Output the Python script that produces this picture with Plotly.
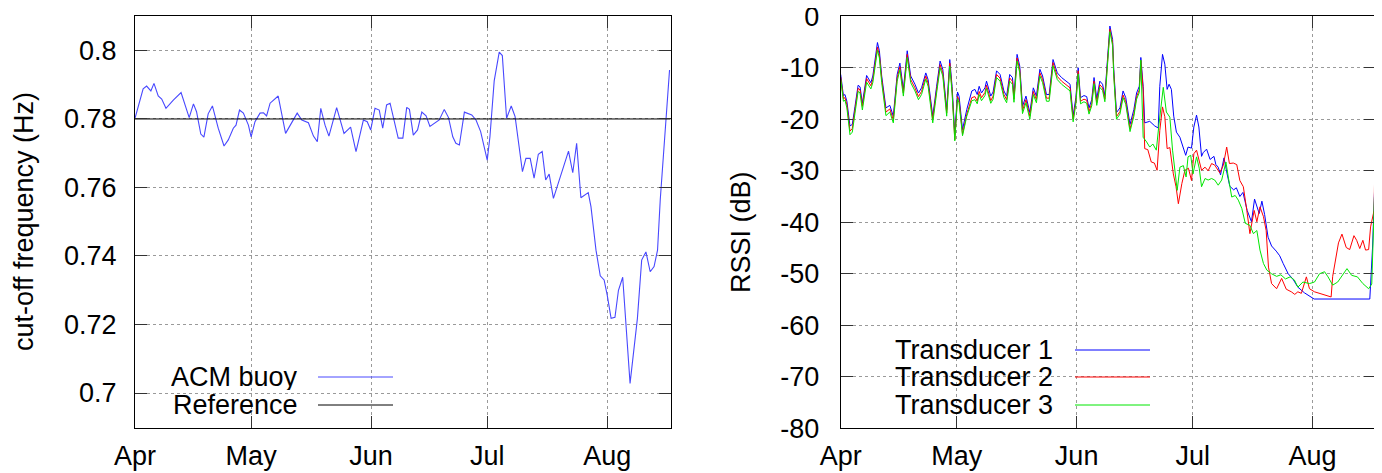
import plotly.graph_objects as go
import pandas as pd

# ---------------- data ----------------
START_DATE = "2013-04-01"
END_DATE = "2013-08-17 09:36"

month_ticks = ["2013-04-01", "2013-05-01", "2013-06-01", "2013-07-01", "2013-08-01"]
month_labels = ["Apr", "May", "Jun", "Jul", "Aug"]

freq_ticks = [0.70, 0.72, 0.74, 0.76, 0.78, 0.80]
freq_tick_labels = ["0.7", "0.72", "0.74", "0.76", "0.78", "0.8"]
rssi_ticks = [-80, -70, -60, -50, -40, -30, -20, -10, 0]
rssi_tick_labels = ["-80", "-70", "-60", "-50", "-40", "-30", "-20", "-10", "0"]

# left panel: cut-off frequency (days since 1 April)
acm_day = [0.0, 2.1, 3.0, 4.1, 4.9, 6.0, 6.9, 8.0, 9.9, 11.9,
           14.0, 15.1, 15.9, 17.0, 17.8, 18.9, 20.0, 21.5, 23.0, 24.1,
           25.4, 26.1, 27.0, 28.0, 29.3, 30.0, 31.0, 32.3, 33.2, 34.0,
           34.9, 37.0, 38.9, 40.1, 41.9, 43.1, 44.8, 46.1, 47.1, 48.0,
           49.1, 50.1, 52.1, 54.0, 55.7, 57.1, 59.0, 60.0, 60.9, 62.0,
           63.1, 64.0, 65.0, 65.9, 66.7, 68.0, 69.2, 70.2, 70.9, 71.9,
           73.0, 74.1, 75.2, 76.2, 78.6, 79.9, 81.0, 82.1, 82.9, 83.8,
           85.1, 87.0, 88.1, 89.3, 91.0, 91.7, 92.8, 94.1, 94.9, 96.0,
           97.2, 98.2, 100.1, 101.0, 102.1, 103.1, 104.2, 105.2, 106.1, 107.0,
           108.1, 112.0, 113.1, 114.1, 115.2, 117.1, 117.8, 119.1, 120.2, 121.2,
           122.0, 123.0, 124.0, 124.9, 126.0, 127.9, 129.8, 130.9, 132.0, 133.1,
           134.1, 135.0, 135.7, 138.1]
acm_freq = [0.7802, 0.7888, 0.7896, 0.7882, 0.7904, 0.7867, 0.7858, 0.7831, 0.7855, 0.7877,
            0.7804, 0.7844, 0.7821, 0.7756, 0.7747, 0.7815, 0.7838, 0.7773, 0.7721, 0.7739,
            0.7773, 0.7782, 0.7826, 0.7817, 0.7782, 0.7748, 0.7792, 0.7817, 0.7818, 0.7809,
            0.7846, 0.7867, 0.7758, 0.7782, 0.7817, 0.7797, 0.7789, 0.7750, 0.7734, 0.7831,
            0.7782, 0.7750, 0.7833, 0.7758, 0.7776, 0.7705, 0.7797, 0.7792, 0.7768, 0.7831,
            0.7826, 0.7773, 0.7841, 0.7846, 0.7807, 0.7744, 0.7744, 0.7834, 0.7828, 0.7753,
            0.7768, 0.7820, 0.7809, 0.7778, 0.7797, 0.7828, 0.7804, 0.7748, 0.7729, 0.7724,
            0.7820, 0.7812, 0.7797, 0.7763, 0.7680, 0.7748, 0.7911, 0.7995, 0.7985, 0.7802,
            0.7838, 0.7807, 0.7646, 0.7685, 0.7685, 0.7627, 0.7697, 0.7705, 0.7622, 0.7639,
            0.7568, 0.7706, 0.7643, 0.7729, 0.7570, 0.7585, 0.7544, 0.7417, 0.7342, 0.7330,
            0.7286, 0.7218, 0.7221, 0.7300, 0.7338, 0.7028, 0.7218, 0.7388, 0.7412, 0.7354,
            0.7369, 0.7417, 0.7564, 0.7943]
reference_freq = 0.78

# right panel: RSSI, common early period (days since 1 April)
rssi_day_early = [0.0, 0.7, 1.1, 1.6, 2.4, 3.0, 3.7, 4.5, 5.0, 5.6,
                  6.7, 7.8, 8.3, 8.9, 9.5, 10.0, 10.6, 11.7, 12.7, 13.6,
                  14.6, 15.3, 16.2, 17.2, 18.1, 19.2, 20.1, 20.9, 22.0, 22.6,
                  23.8, 24.8, 25.7, 26.4, 27.4, 28.2, 28.8, 29.5, 30.2, 30.6,
                  31.5, 32.6, 33.9, 34.7, 35.3, 35.8, 36.4, 37.3, 37.7, 38.8,
                  39.4, 40.3, 41.2, 42.2, 42.9, 43.7, 44.4, 44.8, 45.6, 46.3,
                  47.0, 47.9, 48.9, 49.8, 50.6, 51.5, 52.2, 53.2, 53.9, 54.9,
                  56.0, 57.1, 58.4, 59.3, 60.1, 60.8, 61.4, 62.0, 62.9, 63.6,
                  64.2, 64.9, 65.5, 66.2, 67.0, 67.7, 68.3, 68.9, 69.6, 70.3,
                  70.6, 71.3, 72.2, 73.0, 73.7, 74.8, 75.8, 76.5, 77.2, 77.6]
t1_early = [-11.3, -15.4, -15.2, -16.5, -21.3, -21.0, -17.5, -13.4, -13.7, -16.9,
            -11.5, -12.9, -11.6, -8.4, -5.1, -6.7, -11.6, -17.8, -17.3, -19.4,
            -11.3, -9.1, -14.2, -6.7, -11.6, -13.2, -14.9, -13.9, -11.0, -12.3,
            -19.4, -13.6, -8.7, -10.3, -18.1, -8.4, -13.6, -23.0, -14.7, -15.5,
            -22.0, -18.1, -14.5, -14.2, -15.2, -13.6, -14.9, -13.9, -12.6, -15.5,
            -14.7, -10.6, -11.3, -14.5, -15.5, -11.3, -11.9, -15.4, -7.4, -9.7,
            -17.5, -15.5, -18.7, -13.9, -15.5, -10.3, -11.6, -15.2, -15.2, -8.4,
            -11.0, -11.9, -12.6, -13.2, -19.3, -15.8, -10.0, -15.8, -15.4, -15.6,
            -17.8, -16.2, -11.9, -16.0, -12.6, -13.2, -15.4, -8.4, -1.9, -4.5,
            -10.3, -18.7, -17.8, -14.5, -15.8, -21.0, -18.1, -14.9, -13.6, -8.0]
t2_early = [-11.8, -16.0, -15.8, -17.2, -22.3, -21.8, -18.1, -14.0, -14.3, -17.5,
            -12.1, -13.5, -12.3, -9.2, -6.0, -7.5, -12.2, -18.6, -18.0, -20.1,
            -12.0, -9.8, -14.9, -7.4, -12.3, -13.9, -15.6, -14.6, -11.6, -13.0,
            -20.0, -14.3, -9.4, -11.0, -18.8, -9.1, -14.3, -24.0, -15.6, -16.3,
            -22.9, -19.0, -15.8, -15.6, -16.5, -14.6, -15.8, -14.8, -13.4, -16.4,
            -15.5, -11.3, -12.0, -15.2, -16.2, -12.0, -12.6, -16.1, -8.1, -10.4,
            -18.3, -16.2, -19.4, -14.6, -16.2, -11.0, -12.3, -15.9, -15.9, -9.0,
            -11.7, -12.6, -13.3, -13.9, -20.0, -16.5, -10.6, -16.5, -16.1, -16.3,
            -18.5, -16.9, -12.6, -16.8, -13.3, -13.9, -16.1, -9.0, -2.5, -5.2,
            -11.0, -19.5, -18.5, -15.3, -16.6, -21.9, -18.9, -15.6, -14.3, -8.6]
t3_early = [-12.2, -16.5, -16.3, -17.8, -23.0, -22.5, -18.8, -14.6, -14.9, -18.2,
            -12.8, -14.1, -12.9, -9.8, -6.6, -8.1, -12.9, -19.3, -18.6, -20.7,
            -12.6, -10.4, -15.5, -8.0, -12.9, -14.5, -16.2, -15.2, -12.2, -13.6,
            -20.7, -14.9, -10.0, -11.6, -19.4, -9.7, -14.9, -24.2, -16.0, -16.8,
            -23.2, -19.4, -16.4, -16.2, -17.0, -15.2, -16.4, -15.4, -14.0, -16.9,
            -16.1, -11.9, -12.6, -15.8, -16.8, -12.6, -13.2, -16.7, -8.7, -11.0,
            -18.9, -16.8, -20.0, -15.2, -16.8, -11.6, -12.9, -16.5, -16.5, -9.6,
            -12.3, -13.2, -13.9, -14.5, -20.5, -17.0, -11.2, -17.0, -16.6, -16.9,
            -19.0, -17.4, -13.1, -17.3, -13.8, -14.4, -16.6, -9.5, -3.0, -5.7,
            -11.6, -20.0, -19.0, -15.8, -17.1, -22.4, -19.4, -16.1, -14.8, -8.5]

# right panel: late period, each transducer separately
t1_late_day = [78.2, 78.6, 79.9, 81.2, 82.1, 82.5, 83.2, 83.8, 84.4, 84.9,
               85.5, 86.1, 86.8, 87.7, 88.4, 89.2, 89.8, 90.7, 91.3, 92.0,
               92.6, 93.3, 93.7, 94.6, 95.5, 96.5, 97.0, 97.6, 98.2, 99.1,
               99.9, 100.6, 101.6, 102.3, 103.2, 104.0, 105.1, 106.2, 107.0, 108.2,
               108.9, 109.6, 110.5, 111.4, 112.6, 113.5, 114.4, 115.7, 116.9, 118.2,
               119.9, 121.2, 122.4, 136.8, 137.5, 138.3]
t1_late = [-13.6, -20.7, -20.4, -21.3, -21.7, -13.6, -7.4, -9.3, -14.2, -13.2,
           -14.2, -19.4, -22.5, -23.5, -25.2, -27.0, -25.4, -25.6, -21.5, -19.2,
           -21.5, -27.2, -26.5, -25.8, -27.8, -27.2, -28.8, -29.3, -30.8, -27.5,
           -30.6, -33.0, -33.7, -33.3, -35.0, -34.2, -37.7, -39.9, -35.5, -38.3,
           -35.9, -38.5, -42.9, -44.6, -45.6, -46.5, -48.0, -50.0, -51.0, -52.6,
           -53.7, -54.3, -54.9, -54.9, -45.0, -28.0]
t2_late_day = [78.2, 78.6, 79.4, 80.3, 81.1, 81.8, 82.5, 83.2, 83.8, 84.4,
               85.1, 86.0, 86.7, 87.3, 88.2, 89.0, 89.9, 90.7, 91.3, 92.0,
               92.7, 93.3, 94.2, 95.0, 95.9, 96.7, 98.0, 98.9, 99.8, 100.5,
               101.5, 102.4, 103.2, 104.1, 105.0, 105.8, 106.9, 107.6, 108.4, 109.3,
               110.0, 110.6, 111.4, 112.7, 114.0, 115.2, 116.5, 117.4, 118.2, 119.1,
               120.4, 121.2, 122.5, 123.8, 125.1, 126.8, 127.2, 127.9, 128.7, 129.6,
               130.7, 131.6, 132.7, 133.4, 134.2, 135.0, 135.7, 136.5, 137.0, 137.9,
               138.3]
t2_late = [-14.3, -25.7, -25.9, -28.3, -28.5, -29.9, -22.2, -17.6, -19.5, -25.7,
           -25.5, -30.6, -33.1, -36.4, -32.5, -29.9, -29.5, -31.9, -26.7, -26.0,
           -28.0, -29.9, -29.3, -30.0, -28.6, -28.9, -30.4, -29.0, -25.4, -28.6,
           -28.5, -28.8, -31.9, -33.1, -37.7, -42.2, -37.7, -39.9, -37.0, -38.9,
           -41.6, -48.7, -51.9, -52.9, -50.9, -53.0, -53.5, -54.0, -53.5, -53.8,
           -50.6, -52.9, -53.5, -53.8, -54.2, -54.5, -50.5, -47.4, -44.0, -42.3,
           -44.9, -45.3, -42.6, -43.5, -45.1, -43.5, -45.4, -45.3, -40.9, -37.7,
           -19.6]
t3_late_day = [78.2, 79.1, 79.9, 80.7, 81.6, 82.3, 82.9, 83.4, 84.2, 85.1,
               85.8, 86.4, 87.0, 87.7, 88.6, 89.3, 89.8, 90.5, 91.1, 92.0,
               92.7, 93.3, 94.2, 95.0, 95.9, 96.7, 97.6, 98.5, 99.6, 100.2,
               101.1, 102.0, 102.8, 103.7, 104.6, 105.8, 106.7, 107.6, 108.4, 109.3,
               110.2, 111.4, 112.7, 113.8, 115.0, 116.2, 117.3, 118.2, 119.5, 121.2,
               122.5, 123.8, 125.1, 126.0, 127.2, 128.5, 129.8, 130.9, 132.1, 133.6,
               135.0, 136.5, 137.3, 138.0, 138.3]
t3_late = [-23.5, -24.4, -25.4, -24.8, -26.0, -20.9, -16.3, -13.8, -18.6, -19.6,
           -26.0, -29.9, -33.8, -29.3, -29.0, -31.2, -27.3, -27.0, -30.6, -27.3,
           -29.5, -33.1, -31.5, -31.8, -31.5, -31.8, -32.8, -31.8, -28.3, -31.2,
           -35.1, -34.8, -35.7, -37.3, -40.2, -40.6, -42.2, -41.6, -45.4, -48.0,
           -49.3, -50.0, -50.5, -50.2, -51.0, -50.6, -51.2, -52.6, -51.6, -51.9,
           -51.6, -50.0, -49.6, -50.6, -52.2, -51.6, -50.3, -49.0, -50.3, -50.6,
           -51.9, -52.9, -52.0, -35.1, -33.0]

# ---------------- build ----------------
# the page body has an 8px margin, so figure pixels = page pixels - 8
OFF = 8
W, H = 1382 - OFF, 473 - OFF
FONT = "Liberation Sans, Arial, Helvetica, sans-serif"
FS = 27


def to_dates(days):
    return pd.Timestamp(START_DATE) + pd.to_timedelta(pd.Series(days), unit="D")


def px(x):
    return (x - OFF) / W


def py(y):
    return 1 - (y - OFF) / H


BLUE_L = "#4848ff"
BLUE = "#0000ff"
RED = "#ff0000"
GREEN = "#00e600"

fig = go.Figure()
fig.add_trace(go.Scatter(x=to_dates(acm_day), y=acm_freq, mode="lines",
                         line=dict(color=BLUE_L, width=1.1), xaxis="x", yaxis="y",
                         name="ACM buoy", showlegend=False))
fig.add_trace(go.Scatter(x=[START_DATE, END_DATE], y=[reference_freq, reference_freq],
                         mode="lines", line=dict(color="black", width=1),
                         xaxis="x", yaxis="y", name="Reference", showlegend=False))

for days_late, vals_early, vals_late, col, nm in [
        (t1_late_day, t1_early, t1_late, BLUE, "Transducer 1"),
        (t2_late_day, t2_early, t2_late, RED, "Transducer 2"),
        (t3_late_day, t3_early, t3_late, GREEN, "Transducer 3")]:
    fig.add_trace(go.Scatter(x=to_dates(rssi_day_early + days_late),
                             y=vals_early + vals_late, mode="lines",
                             line=dict(color=col, width=1), xaxis="x2", yaxis="y2",
                             name=nm, showlegend=False))

axis_common = dict(showline=True, linecolor="black", linewidth=1, mirror="ticks",
                   ticks="inside", ticklen=12, tickwidth=1, tickcolor="#333",
                   showgrid=True, gridcolor="#9a9a9a", gridwidth=1, griddash="dot",
                   zeroline=False, automargin=False, ticklabeloverflow="allow",
                   tickfont=dict(family=FONT, size=FS, color="black"))

ydom = [py(428.3), py(16.2)]
fig.update_layout(
    width=W, height=H, margin=dict(l=0, r=0, t=0, b=0, pad=0), autosize=False,
    paper_bgcolor="white", plot_bgcolor="white", showlegend=False,
    xaxis=dict(axis_common, type="date", domain=[px(135), px(670.7)], anchor="y",
               range=[START_DATE, END_DATE], tickvals=month_ticks, ticktext=month_labels,
               ticklabelstandoff=3),
    yaxis=dict(axis_common, domain=ydom, anchor="x", range=[0.6897, 0.8100],
               tickvals=freq_ticks, ticktext=freq_tick_labels, ticklabelstandoff=12),
    xaxis2=dict(axis_common, type="date", domain=[px(840.7), px(1376)], anchor="y2",
                range=[START_DATE, END_DATE], tickvals=month_ticks, ticktext=month_labels,
                ticklabelstandoff=3),
    yaxis2=dict(axis_common, domain=ydom, anchor="x2", range=[-80, 0.01],
                tickvals=rssi_ticks, ticktext=rssi_tick_labels, ticklabelstandoff=15),
)

# axis titles
fig.add_annotation(text="cut-off frequency (Hz)", x=px(24), y=py(222), xref="paper", yref="paper",
                   textangle=-90, showarrow=False, xanchor="center", yanchor="middle",
                   font=dict(family=FONT, size=FS, color="black"))
fig.add_annotation(text="RSSI (dB)", x=px(741), y=py(232), xref="paper", yref="paper",
                   textangle=-90, showarrow=False, xanchor="center", yanchor="middle",
                   font=dict(family=FONT, size=FS, color="black"))

# key boxes (gnuplot style: text then sample)
shapes = []
shapes.append(dict(type="rect", xref="paper", yref="paper", x0=px(136), x1=px(410),
                   y0=py(427.5), y1=py(363), fillcolor="white", line=dict(width=0),
                   layer="between"))
shapes.append(dict(type="rect", xref="paper", yref="paper", x0=px(841.7), x1=px(1167),
                   y0=py(427.5), y1=py(335), fillcolor="white", line=dict(width=0),
                   layer="between"))

left_key = [("ACM buoy", BLUE_L, 377), ("Reference", "black", 405)]
for txt, col, yy in left_key:
    fig.add_annotation(text=txt, x=px(300), y=py(yy), xref="paper", yref="paper",
                       showarrow=False, xanchor="right", yanchor="middle", height=26,
                       font=dict(family=FONT, size=FS, color="black"))
    shapes.append(dict(type="line", xref="paper", yref="paper", x0=px(318), x1=px(393),
                       y0=py(yy), y1=py(yy), line=dict(color=col, width=1), layer="above"))

right_key = [("Transducer 1", BLUE, 350), ("Transducer 2", RED, 377), ("Transducer 3", GREEN, 405)]
for txt, col, yy in right_key:
    fig.add_annotation(text=txt, x=px(1055), y=py(yy), xref="paper", yref="paper",
                       showarrow=False, xanchor="right", yanchor="middle", height=26,
                       font=dict(family=FONT, size=FS, color="black"))
    shapes.append(dict(type="line", xref="paper", yref="paper", x0=px(1075), x1=px(1150),
                       y0=py(yy), y1=py(yy), line=dict(color=col, width=1), layer="above"))

fig.update_layout(shapes=shapes)
fig.write_html("out.html")
